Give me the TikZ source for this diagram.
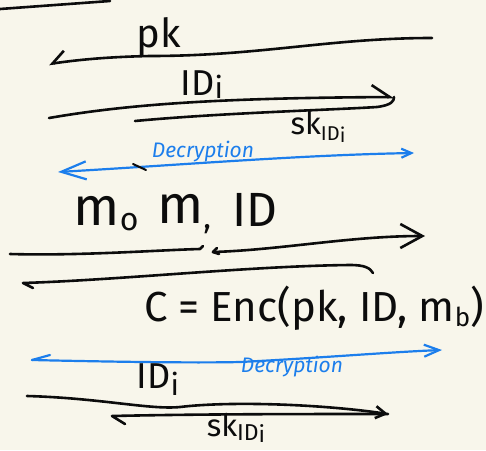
\documentclass[tikz,border=0pt]{standalone}
\usepackage{fontspec}
\setmainfont{Fira Sans}
\usetikzlibrary{arrows.meta}
\definecolor{paper}{RGB}{248,246,235}
\definecolor{pen}{RGB}{12,12,12}
\definecolor{bluepen}{RGB}{28,126,236}
\begin{document}
\begin{tikzpicture}[x=1pt,y=-1pt,
  ink/.style={draw=pen,line width=2.6pt,line cap=round,line join=round},
  blueink/.style={draw=bluepen,line width=2.2pt,line cap=round,line join=round},
  lbl/.style={inner sep=0pt,text=pen},
  bluelbl/.style={inner sep=0pt,text=bluepen,font=\fontsize{21}{22}\selectfont\itshape}]
\fill[paper] (0,0) rectangle (486,450);
\useasboundingbox (0,0) rectangle (486,450);

% top stroke
\coordinate (t1) at (0,9);
\coordinate (t2) at (110,1);
\draw[ink] (t1) -- (t2);

% pk arrow (leftwards, upper half head)
\coordinate (pkR) at (432,38);
\coordinate (pkL) at (49,64);
\draw[ink,-{Straight Barb[right,length=13pt,width=22pt]}] (pkR) .. controls (330,38) and (260,56) .. (150,56) .. controls (100,57) and (70,61) .. (pkL);
\node[lbl,font=\fontsize{40}{42}\selectfont] (pk) at (159,37) {pk};

% ID_i arrow (rightwards, upper half head)
\coordinate (idL) at (49,118);
\coordinate (idR) at (394,97);
\draw[ink,-{Straight Barb[left,length=18pt,width=24pt]}] (idL) .. controls (130,104) and (220,98) .. (idR);
\node[lbl,font=\fontsize{36}{38}\selectfont] (idi) at (202,85) {ID\raisebox{-3pt}{\fontsize{30}{32}\selectfont i}};

% sk line, closing the head
\coordinate (skL) at (135,121);
\draw[ink] (skL) .. controls (220,113) and (330,110) .. (377,107) .. controls (392,105) and (394,101) .. (idR);
\node[lbl,font=\fontsize{31}{32}\selectfont] (sk1) at (318,127) {sk\raisebox{-6pt}{\fontsize{20}{22}\selectfont ID\raisebox{-2pt}{i}}};

% blue double arrow
\coordinate (b1L) at (58,172);
\coordinate (b1R) at (414,153);
\draw[blueink,{Straight Barb[length=25pt,width=18pt]}-{Straight Barb[length=10pt,width=9pt]}] (b1L) .. controls (180,165) and (300,155) .. (b1R);
\node[bluelbl] (dec1) at (203,152) {Decryption};
\coordinate (tk1) at (133,164);
\coordinate (tk2) at (146,170);
\draw[ink,line width=2pt] (tk1) -- (tk2);

% m0 m1 ID
\node[lbl,font=\fontsize{54}{56}\selectfont] (m0) at (106,214) {m\raisebox{-5pt}{\fontsize{32}{34}\selectfont o}};
\node[lbl,font=\fontsize{54}{56}\selectfont] (m1) at (184,214) {m\raisebox{-5pt}{\fontsize{32}{34}\selectfont ,}};
\node[lbl,font=\fontsize{48}{50}\selectfont] (idm) at (255,210) {ID};

% brace-like line under m0 m1
\coordinate (u1) at (10,254);
\coordinate (u2) at (203,246);
\draw[ink] (u1) .. controls (80,256) and (160,250) .. (200,249) -- (u2);

% arrow to the right
\coordinate (a2L) at (213,252);
\coordinate (a2R) at (425,236);
\draw[ink] (217,248) -- (a2L) -- (219,254);
\draw[ink,-{Straight Barb[length=22pt,width=24pt]}] (a2L) .. controls (280,250) and (350,236) .. (a2R);

% long lower return line
\coordinate (lL) at (23,283);
\coordinate (lR) at (373,273);
\draw[ink] (33,288) -- (lL) .. controls (120,280) and (250,266) .. (350,265) .. controls (365,265) and (370,268) .. (lR);

% ciphertext
\node[lbl,font=\fontsize{42}{44}\selectfont] (ct) at (314,308) {C = Enc(pk, ID, m\raisebox{-5pt}{\fontsize{26}{28}\selectfont b})};

% blue arrow right
\coordinate (b2L) at (32,360);
\coordinate (b2R) at (442,350);
\draw[blueink] (50,355) -- (b2L);
\draw[blueink,-{Straight Barb[length=15pt,width=12pt]}] (b2L) .. controls (120,362) and (200,363) .. (240,362) .. controls (320,358) and (390,352) .. (b2R);
\node[bluelbl] (dec2) at (292,367) {Decryption};

% ID_i lower
\node[lbl,font=\fontsize{36}{38}\selectfont] (idi2) at (158,380) {ID\raisebox{-7pt}{\fontsize{30}{32}\selectfont i}};

% lower double line with head
\coordinate (dL) at (27,396);
\coordinate (dR) at (388,414);
\draw[ink,-{Straight Barb[length=10pt,width=12pt]}] (dL) .. controls (100,398) and (150,410) .. (180,407) .. controls (230,401) and (320,404) .. (dR);
\coordinate (eL) at (112,416);
\draw[ink] (125,424) -- (eL) .. controls (200,414) and (300,414) .. (dR);
\node[lbl,font=\fontsize{31}{33}\selectfont] (sk2) at (236,428) {sk\raisebox{-4pt}{\fontsize{23}{25}\selectfont ID\raisebox{-2pt}{i}}};
\end{tikzpicture}
\end{document}
